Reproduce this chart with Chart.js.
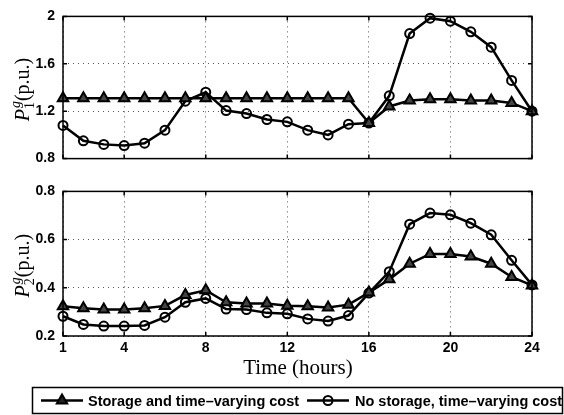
<!DOCTYPE html>
<html>
<head>
<meta charset="utf-8">
<script src="https://cdn.jsdelivr.net/npm/chart.js@4.4.0/dist/chart.umd.min.js"></script>
<style>
  body { margin: 0; background: #fff; }
  .panel { position: absolute; left: 0; }
</style>
</head>
<body>
<div class="panel" style="top:0"><canvas id="chart-1" width="564" height="175"></canvas></div>
<div class="panel" style="top:175px"><canvas id="chart-2" width="564" height="240"></canvas></div>
<script>
const hours = [1,2,3,4,5,6,7,8,9,10,11,12,13,14,15,16,17,18,19,20,21,22,23,24];
const xTicks = [1,4,8,12,16,20,24];

// generator 1 output (p.u.)
const g1Storage = [1.31,1.31,1.31,1.31,1.31,1.31,1.31,1.31,1.31,1.31,1.31,1.31,1.31,1.31,1.31,1.10,1.24,1.29,1.30,1.30,1.29,1.29,1.27,1.20];
const g1NoStorage = [1.08,0.95,0.92,0.91,0.93,1.04,1.285,1.36,1.205,1.18,1.13,1.11,1.04,1.00,1.09,1.10,1.33,1.855,1.985,1.96,1.87,1.74,1.46,1.20];
const g1Ticks = [0.8,1.2,1.6,2];

// generator 2 output (p.u.)
const g2Storage = [0.323,0.315,0.31,0.31,0.315,0.325,0.37,0.39,0.34,0.335,0.335,0.326,0.323,0.318,0.33,0.38,0.435,0.50,0.54,0.54,0.53,0.50,0.445,0.41];
const g2NoStorage = [0.282,0.248,0.241,0.241,0.244,0.278,0.34,0.356,0.312,0.31,0.296,0.292,0.271,0.262,0.285,0.378,0.467,0.664,0.71,0.703,0.668,0.62,0.514,0.412];
const g2Ticks = [0.2,0.4,0.6,0.8];

const legendLabels = ['Storage and time\u2013varying cost', 'No storage, time\u2013varying cost'];

function pts(arr) {
  return hours.map((h, i) => ({ x: h, y: arr[i] }));
}

function datasets(a, b) {
  return [{
    data: pts(a),
    borderColor: '#000',
    backgroundColor: 'rgba(0,0,0,0)',
    borderWidth: 2.5,
    pointStyle: 'triangle',
    pointRadius: 6,
    pointBorderWidth: 2,
    pointBorderColor: '#000',
    pointBackgroundColor: '#444',
    clip: false
  }, {
    data: pts(b),
    borderColor: '#000',
    backgroundColor: 'rgba(0,0,0,0)',
    borderWidth: 2.5,
    pointStyle: 'circle',
    pointRadius: 4.5,
    pointBorderWidth: 2,
    pointBorderColor: '#000',
    pointBackgroundColor: 'rgba(0,0,0,0)',
    clip: false
  }];
}

// box around plot area + matlab style inner ticks
const frame = {
  id: 'frame',
  afterDatasetsDraw(chart) {
    const { ctx, chartArea: a, scales } = chart;
    ctx.save();
    ctx.strokeStyle = '#000';
    ctx.lineWidth = 1.5;
    ctx.beginPath();
    scales.x.ticks.forEach(t => {
      const px = scales.x.getPixelForValue(t.value);
      ctx.moveTo(px, a.bottom); ctx.lineTo(px, a.bottom - 4);
      ctx.moveTo(px, a.top); ctx.lineTo(px, a.top + 4);
    });
    scales.y.ticks.forEach(t => {
      const py = scales.y.getPixelForValue(t.value);
      ctx.moveTo(a.left, py); ctx.lineTo(a.left + 4, py);
      ctx.moveTo(a.right, py); ctx.lineTo(a.right - 4, py);
    });
    ctx.stroke();
    ctx.strokeRect(a.left, a.top, a.right - a.left, a.bottom - a.top);
    ctx.restore();
  }
};

// y axis title  P_n^g (p.u.)
function yTitle(sub) {
  return {
    id: 'ytitle',
    afterDraw(chart) {
      const { ctx, chartArea: a } = chart;
      const cy = (a.top + a.bottom) / 2 + 2;
      ctx.save();
      ctx.translate(29, cy);
      ctx.rotate(-Math.PI / 2);
      ctx.fillStyle = '#000';
      ctx.textBaseline = 'alphabetic';
      const big = '20px "Liberation Serif"';
      const bigI = 'italic 20px "Liberation Serif"';
      const small = '14px "Liberation Serif"';
      const smallI = 'italic 14px "Liberation Serif"';
      ctx.font = bigI; const wP = ctx.measureText('P').width;
      ctx.font = smallI; const wg = ctx.measureText('g').width;
      ctx.font = small; const w1 = ctx.measureText(sub).width;
      ctx.font = big; const wr = ctx.measureText('(p.u.)').width;
      const ws = Math.max(wg, w1) + 1;
      let x = -(wP + ws + wr) / 2;
      ctx.font = bigI; ctx.fillText('P', x, 0);
      x += wP;
      ctx.font = smallI; ctx.fillText('g', x + 1, -9);
      ctx.font = small; ctx.fillText(sub, x, 5);
      x += ws;
      ctx.font = big; ctx.fillText('(p.u.)', x, 0);
      ctx.restore();
    }
  };
}

// x title and legend box under the lower panel
const bottomExtras = {
  id: 'bottomExtras',
  afterDraw(chart) {
    const { ctx } = chart;
    ctx.save();
    ctx.fillStyle = '#000';
    ctx.font = '21px "Liberation Serif"';
    ctx.textAlign = 'center';
    ctx.textBaseline = 'alphabetic';
    ctx.fillText('Time (hours)', 298, 199);

    ctx.strokeStyle = '#000';
    ctx.lineWidth = 1.5;
    ctx.strokeRect(32.5, 212.5, 530, 26);

    const cy = 225.5;
    ctx.lineWidth = 2.5;
    ctx.beginPath();
    ctx.moveTo(41, cy); ctx.lineTo(83, cy);
    ctx.moveTo(307, cy); ctx.lineTo(349, cy);
    ctx.stroke();

    ctx.lineWidth = 2;
    const r = 6;
    ctx.beginPath();
    ctx.moveTo(62, cy - r);
    ctx.lineTo(62 + 0.866 * r, cy + r / 2);
    ctx.lineTo(62 - 0.866 * r, cy + r / 2);
    ctx.closePath();
    ctx.fillStyle = '#222';
    ctx.fill();
    ctx.stroke();
    ctx.beginPath();
    ctx.arc(328, cy, 4.5, 0, Math.PI * 2);
    ctx.stroke();

    ctx.fillStyle = '#000';
    ctx.font = 'bold 14.5px "Liberation Sans"';
    ctx.textAlign = 'left';
    ctx.textBaseline = 'middle';
    ctx.fillText(legendLabels[0], 88, cy + 1);
    ctx.fillText(legendLabels[1], 355, cy + 1);
    ctx.restore();
  }
};

function makeOptions(yMin, yMax, yTicks, showX, xHeight) {
  const gridStyle = { color: '#555', lineWidth: 1, drawTicks: false };
  return {
    responsive: false,
    animation: false,
    devicePixelRatio: 1,
    layout: { padding: { left: 0, right: 32, top: 14, bottom: showX ? 0 : 15 } },
    plugins: { legend: { display: false }, tooltip: { enabled: false } },
    scales: {
      x: {
        type: 'linear',
        min: 1,
        max: 24,
        afterBuildTicks: s => { s.ticks = xTicks.map(v => ({ value: v })); },
        afterFit: s => { s.height = xHeight; },
        grid: gridStyle,
        border: { display: false, dash: [1, 4] },
        ticks: {
          display: showX,
          padding: 4,
          color: '#000',
          font: { family: 'Liberation Sans', weight: 'bold', size: 14 }
        }
      },
      y: {
        min: yMin,
        max: yMax,
        afterBuildTicks: s => { s.ticks = yTicks.map(v => ({ value: v })); },
        afterFit: s => { s.width = 63; },
        grid: gridStyle,
        border: { display: false, dash: [1, 4] },
        ticks: {
          padding: 8,
          color: '#000',
          font: { family: 'Liberation Sans', weight: 'bold', size: 14 },
          callback: v => String(Number(v.toFixed(1)))
        }
      }
    }
  };
}

new Chart(document.getElementById('chart-1').getContext('2d'), {
  type: 'line',
  data: { datasets: datasets(g1Storage, g1NoStorage) },
  options: makeOptions(0.8, 2, g1Ticks, false, 0),
  plugins: [frame, yTitle('1')]
});

new Chart(document.getElementById('chart-2').getContext('2d'), {
  type: 'line',
  data: { datasets: datasets(g2Storage, g2NoStorage) },
  options: makeOptions(0.2, 0.8, g2Ticks, true, 79),
  plugins: [frame, yTitle('2'), bottomExtras]
});
</script>
</body>
</html>
